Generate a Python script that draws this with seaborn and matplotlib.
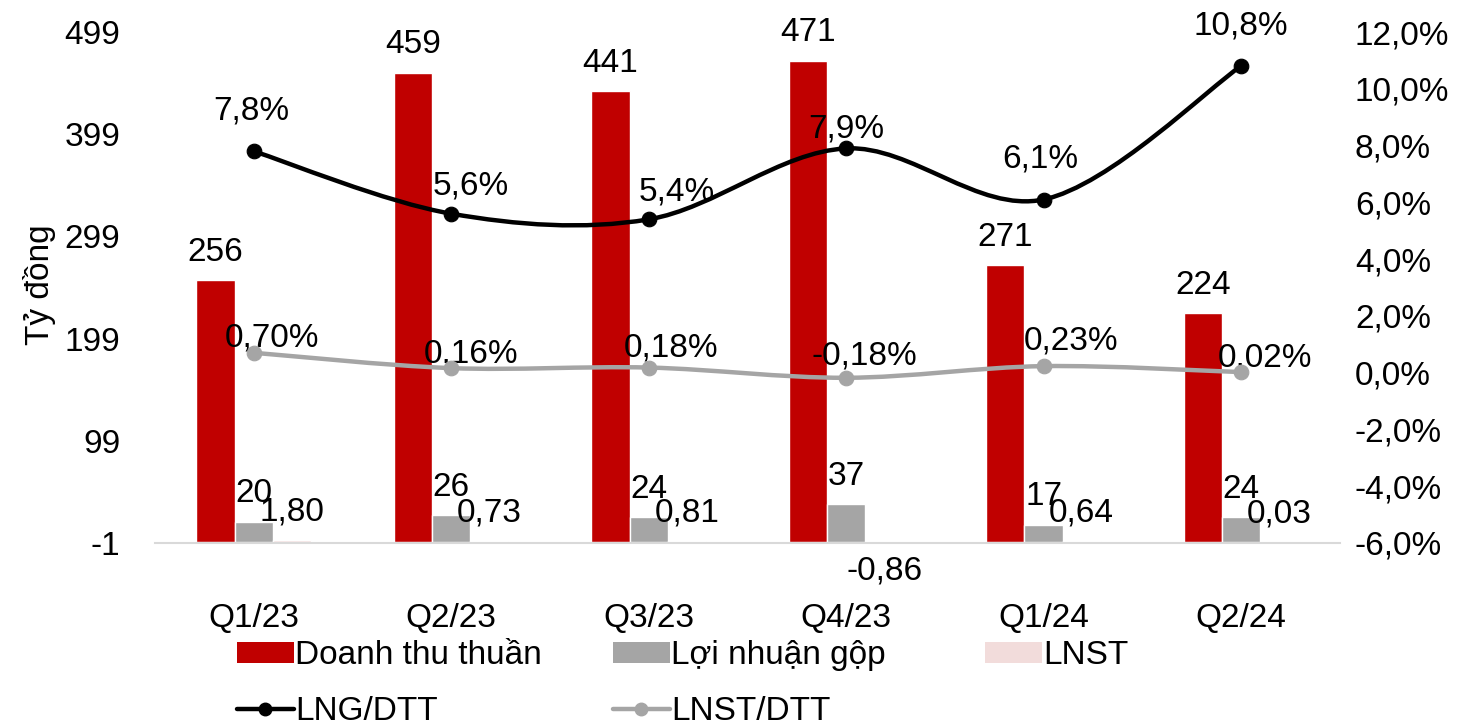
import numpy as np
import pandas as pd
import seaborn as sns
import matplotlib.pyplot as plt
from matplotlib.path import Path
from matplotlib.patches import PathPatch, Patch
from matplotlib.lines import Line2D

#--Data--#
quarters = ['Q1/23', 'Q2/23', 'Q3/23', 'Q4/23', 'Q1/24', 'Q2/24']
revenue = [256, 459, 441, 471, 271, 224]
gross_profit = [20, 26, 24, 37, 17, 24]
net_profit = [1.80, 0.73, 0.81, -0.86, 0.64, 0.03]
gross_margin = [7.8, 5.6, 5.4, 7.9, 6.1, 10.8]
net_margin = [0.70, 0.16, 0.18, -0.18, 0.23, 0.02]

bar_names = ['Doanh thu thuần', 'Lợi nhuận gộp', 'LNST']
bar_colors = ['#C00000', '#A5A5A5', '#F2DCDB']


def vn(v, d):
    # Vietnamese style decimal comma
    return f"{v:.{d}f}".replace('.', ',')


def smooth_path(xs, ys):
    # Excel-like smoothed line: Catmull-Rom turned into cubic Bezier pieces
    pts = np.column_stack([xs, ys]).astype(float)
    ext = np.vstack([pts[0], pts, pts[-1]])
    verts = [pts[0]]
    codes = [Path.MOVETO]
    for i in range(1, len(ext) - 2):
        p0, p1, p2, p3 = ext[i - 1], ext[i], ext[i + 1], ext[i + 2]
        verts += [p1 + (p2 - p0) / 6, p2 - (p3 - p1) / 6, p2]
        codes += [Path.CURVE4] * 3
    return Path(verts, codes)


df = pd.DataFrame({
    'quarter': quarters * 3,
    'value': revenue + gross_profit + net_profit,
    'series': sum([[n] * len(quarters) for n in bar_names], []),
})

sns.set_style('white')
plt.rcParams['font.family'] = ['Liberation Sans', 'DejaVu Sans']
plt.rcParams['font.size'] = 24
plt.rcParams['axes.unicode_minus'] = False
for k in ['text.color', 'axes.labelcolor', 'xtick.color', 'ytick.color']:
    plt.rcParams[k] = 'black'

fig = plt.figure(figsize=(14.68, 7.23), dpi=100)
ax = fig.add_axes([0.1056, 0.249, 0.807, 0.7067])

sns.barplot(data=df, x='quarter', y='value', hue='series', hue_order=bar_names,
            palette=bar_colors, saturation=1, width=0.58, errorbar=None,
            legend=False, ax=ax)

label_sets = [[str(v) for v in revenue], [str(v) for v in gross_profit],
              [vn(v, 2) for v in net_profit]]
for cont, labs in zip(ax.containers, label_sets):
    ax.bar_label(cont, labels=labs, padding=9, fontsize=24)

ax.set_xlim(-0.5, 5.5)
ax.set_ylim(-1, 499)
ax.set_yticks(np.arange(-1, 500, 100))
ax.set_xlabel('')
ax.set_ylabel('Tỷ đồng', fontsize=24)
ax.yaxis.set_label_coords(-0.084, 0.505)
for s in ['top', 'left', 'right']:
    ax.spines[s].set_visible(False)
ax.spines['bottom'].set_color('#D9D9D9')
ax.spines['bottom'].set_linewidth(1.5)
ax.set_xticks(np.arange(-0.5, 6, 1), minor=True)
ax.tick_params(axis='x', which='major', length=0, pad=43)
ax.tick_params(axis='x', which='minor', length=8, color='#D9D9D9', width=1.5)
ax.tick_params(axis='y', length=0, pad=25)

#--Margins on the right axis--#
ax2 = ax.twinx()
ax2.set_ylim(-6, 12)
ax2.set_yticks(np.arange(-6, 13, 2))
ax2.set_yticklabels([vn(t, 1) + '%' for t in np.arange(-6, 13, 2)])
ax2.tick_params(axis='y', length=0, pad=11)
for s in ax2.spines.values():
    s.set_visible(False)

xs = np.arange(len(quarters))
line_styles = [(gross_margin, 'black'), (net_margin, '#A5A5A5')]
for vals, col in line_styles:
    ax2.add_patch(PathPatch(smooth_path(xs, vals), fill=False, edgecolor=col,
                            lw=3.2, capstyle='round', zorder=3))
    sns.scatterplot(x=xs, y=vals, color=col, s=110, edgecolor=col,
                    zorder=4, legend=False, ax=ax2)

lng_offsets = [(-2, 29), (14, 20), (20, 20), (0, 14), (-2, 29), (0, 29)]
lnst_offsets = [(13, 11), (14, 10), (16, 14), (13, 16), (20, 18), (17, 10)]
for i, v in enumerate(gross_margin):
    ax2.annotate(vn(v, 1) + '%', (xs[i], v), xytext=lng_offsets[i],
                 textcoords='offset points', ha='center', va='center', fontsize=24)
for i, v in enumerate(net_margin):
    ax2.annotate(vn(v, 2) + '%', (xs[i], v), xytext=lnst_offsets[i],
                 textcoords='offset points', ha='center', va='center', fontsize=24)

#--Legend laid out as in the original (three columns)--#
bar_handles = [Patch(facecolor=c, edgecolor='none') for c in bar_colors]
line_handles = [Line2D([], [], color=c, lw=3.2, marker='o', ms=9) for _, c in line_styles]
columns = [([bar_handles[0], line_handles[0]], [bar_names[0], 'LNG/DTT'], 237),
           ([bar_handles[1], line_handles[1]], [bar_names[1], 'LNST/DTT'], 613),
           ([bar_handles[2]], [bar_names[2]], 985)]
for hs, ls, xpix in columns:
    fig.legend(hs, ls, loc='upper left', bbox_to_anchor=(xpix / 1468, 1 - 640 / 723),
               frameon=False, fontsize=24, borderpad=0, borderaxespad=0,
               handlelength=1.7, handleheight=0.6, handletextpad=0.05,
               labelspacing=0.75)

fig.savefig('out.png', dpi=100)
